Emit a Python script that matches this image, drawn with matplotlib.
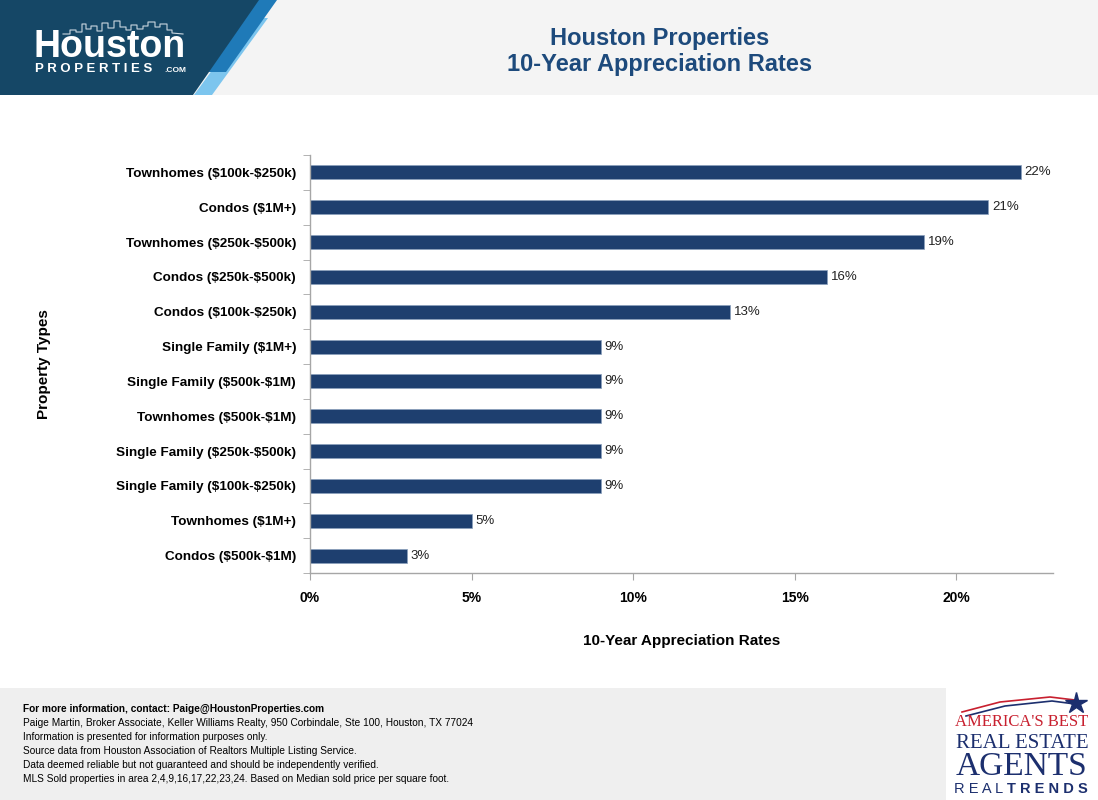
import matplotlib.pyplot as plt
from matplotlib.patches import Polygon, Rectangle
from matplotlib.ticker import FixedLocator, PercentFormatter

plt.rcParams['font.family'] = ['Liberation Sans', 'DejaVu Sans']
plt.rcParams['text.parse_math'] = False  # labels contain "$"

# data, top to bottom as in the chart
categories = [
    'Townhomes ($100k-$250k)', 'Condos ($1M+)', 'Townhomes ($250k-$500k)',
    'Condos ($250k-$500k)', 'Condos ($100k-$250k)', 'Single Family ($1M+)',
    'Single Family ($500k-$1M)', 'Townhomes ($500k-$1M)',
    'Single Family ($250k-$500k)', 'Single Family ($100k-$250k)',
    'Townhomes ($1M+)', 'Condos ($500k-$1M)',
]
rates = [22, 21, 19, 16, 13, 9, 9, 9, 9, 9, 5, 3]
x_ticks = [0, 5, 10, 15, 20]

footer_lines = [
    'Paige Martin, Broker Associate, Keller Williams Realty, 950 Corbindale, Ste 100, Houston, TX 77024',
    'Information is presented for information purposes only.',
    'Source data from Houston Association of Realtors Multiple Listing Service.',
    'Data deemed reliable but not guaranteed and should be independently verified.',
    'MLS Sold properties in area 2,4,9,16,17,22,23,24. Based on Median sold price per square foot.',
]

W, H = 1098, 800
fig = plt.figure(figsize=(W / 100, H / 100), dpi=100)
fig.patch.set_facecolor('white')

# background layer in pixel coordinates
bg = fig.add_axes([0, 0, 1, 1], zorder=0)
bg.set_xlim(0, W)
bg.set_ylim(H, 0)
bg.axis('off')

# header band
bg.add_patch(Rectangle((0, 0), W, 95, color='#f4f4f4', lw=0))
bg.add_patch(Polygon([(250, 18), (268, 18), (212, 95), (194, 95)], color='#7cc5ee', lw=0))
bg.add_patch(Polygon([(258, 0), (277, 0), (226, 72), (208, 72)], color='#1f7ab8', lw=0))
bg.add_patch(Polygon([(0, 0), (259, 0), (193, 95), (0, 95)], color='#154766', lw=0))

# skyline outline above logo
sky_x = [63, 70, 70, 76, 76, 82, 82, 86, 86, 91, 91, 97, 97, 102, 102, 108, 108, 114,
         114, 120, 120, 126, 126, 131, 131, 137, 137, 143, 143, 148, 148, 155, 155, 160,
         160, 167, 167, 172, 172, 183]
sky_y = [34, 34, 30, 30, 32, 32, 24, 24, 29, 29, 26, 26, 31, 31, 23, 23, 28, 28,
         21, 21, 27, 27, 30, 30, 25, 25, 29, 29, 26, 26, 22, 22, 27, 27,
         24, 24, 30, 30, 33, 34]
bg.plot(sky_x, sky_y, color='#c9d6df', lw=0.8)

bg.text(110, 47, 'Houston', color='white', fontsize=27, fontweight='bold',
        ha='center', va='center')
bg.text(35, 69, 'P R O P E R T I E S', color='white', fontsize=9.5, fontweight='bold',
        ha='left', va='center')
bg.text(186, 70, '.COM', color='white', fontsize=6, fontweight='bold',
        ha='right', va='center')

# title
bg.text(660, 38, 'Houston Properties', color='#1d4a7c', fontsize=17, fontweight='bold',
        ha='center', va='center')
bg.text(660, 64, '10-Year Appreciation Rates', color='#1d4a7c', fontsize=17,
        fontweight='bold', ha='center', va='center')

# footer
bg.add_patch(Rectangle((0, 688), 946, H - 688, color='#efefef', lw=0))
bg.text(23, 709, 'For more information, contact: Paige@HoustonProperties.com',
        fontsize=7.3, fontweight='bold', va='center', color='black')
for i, line in enumerate(footer_lines):
    bg.text(23, 723 + 14 * i, line, fontsize=7.3, va='center', color='black')

# right logo
bg.plot([962, 1000, 1050, 1075], [712, 702, 697, 700], color='#c8202f', lw=1.2)
bg.plot([966, 1005, 1052, 1075], [716, 706, 701, 704], color='#1c2f6e', lw=1.2)
bg.plot([1076], [703], marker='*', markersize=16, color='#1c2f6e')
bg.text(1022, 722, "AMERICA'S BEST", family=['Liberation Serif'], fontsize=12,
        color='#c8202f', ha='center', va='center')
bg.text(1022, 743, 'REAL ESTATE', family=['Liberation Serif'], fontsize=15,
        color='#1c2f6e', ha='center', va='center')
bg.text(1022, 767, 'AGENTS', family=['Liberation Serif'], fontsize=24,
        color='#1c2f6e', ha='center', va='center')
bg.text(1007, 789, 'R E A L ', fontsize=10.5, color='#1c2f6e', ha='right', va='center')
bg.text(1007, 789, 'T R E N D S', fontsize=10.5, fontweight='bold', color='#1c2f6e',
        ha='left', va='center')

# chart
ax = fig.add_axes([310 / W, 1 - 573 / H, (1053 - 310) / W, (573 - 155) / H], zorder=1)
ax.patch.set_alpha(0)
ypos = list(range(len(categories)))
ax.barh(ypos, rates, height=0.4, color='#1e3f6f', edgecolor='#8aa0bd', linewidth=0.5)
ax.set_ylim(len(categories) - 0.5, -0.5)
ax.set_xlim(0, 23)

ax.set_yticks(ypos)
ax.set_yticklabels(categories, fontsize=9.7, fontweight='bold')
ax.tick_params(axis='y', length=0, pad=10)
ax.yaxis.set_minor_locator(FixedLocator([i - 0.5 for i in range(len(categories) + 1)]))
ax.tick_params(axis='y', which='minor', length=5, color='#a6a6a6')

ax.xaxis.set_major_locator(FixedLocator(x_ticks))
ax.xaxis.set_major_formatter(PercentFormatter(decimals=0))
ax.tick_params(axis='x', length=5, color='#a6a6a6', labelsize=10, pad=8)
for lbl in ax.get_xticklabels():
    lbl.set_fontweight('bold')

for s in ['top', 'right']:
    ax.spines[s].set_visible(False)
for s in ['left', 'bottom']:
    ax.spines[s].set_color('#a6a6a6')
    ax.spines[s].set_linewidth(1)

for y, v in zip(ypos, rates):
    ax.text(v + 0.12, y, f'{v}%', va='center', ha='left', fontsize=9.5, color='#222222')

ax.set_xlabel('10-Year Appreciation Rates', fontsize=11, fontweight='bold', labelpad=21)
fig.text(44 / W, 1 - 364 / H, 'Property Types', rotation=90, fontsize=11,
         fontweight='bold', ha='center', va='center')

fig.savefig('out.png', dpi=100)
